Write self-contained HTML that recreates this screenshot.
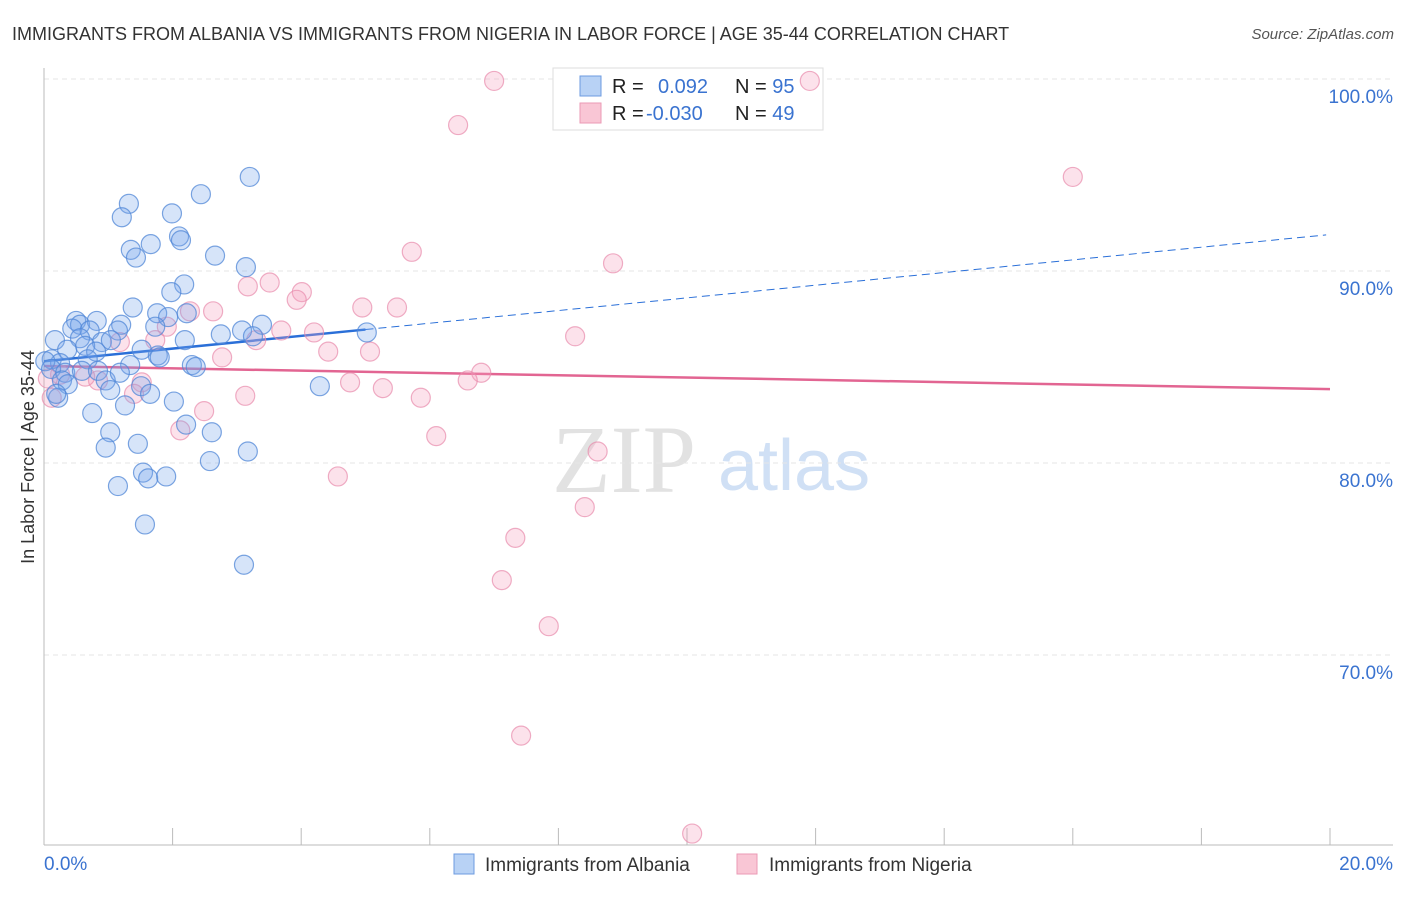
<!DOCTYPE html>
<html><head><meta charset="utf-8"><style>
body{margin:0;background:#fff;font-family:"Liberation Sans",sans-serif;}
</style></head><body>
<svg width="1406" height="892" xmlns="http://www.w3.org/2000/svg">
<text x="12" y="40" font-size="18" fill="#333">IMMIGRANTS FROM ALBANIA VS IMMIGRANTS FROM NIGERIA IN LABOR FORCE | AGE 35-44 CORRELATION CHART</text>
<text x="1394" y="39" font-size="15" fill="#555" font-style="italic" text-anchor="end">Source: ZipAtlas.com</text>
<g>
<text x="552" y="492" font-size="96" fill="#e2e2e2" font-family="Liberation Serif, serif">ZIP</text>
<text x="718" y="490" font-size="72" fill="#d0e0f5">atlas</text>
</g>
<g id="grid"></g>
<g id="axes"></g>
<g>
<rect x="553" y="68" width="270" height="62" fill="#fff" stroke="#ddd"/>
<rect x="580" y="76" width="21" height="20" fill="#b8d2f5" stroke="#6d9be0"/>
<rect x="580" y="103" width="21" height="20" fill="#f9c6d5" stroke="#eb9ab5"/>
<text x="612" y="93" font-size="20" fill="#222">R = <tspan x="658" fill="#3a73d0">0.092</tspan><tspan x="735" fill="#222">N = </tspan><tspan fill="#3a73d0">95</tspan></text>
<text x="612" y="120" font-size="20" fill="#222">R = <tspan x="646" fill="#3a73d0">-0.030</tspan><tspan x="735" fill="#222">N = </tspan><tspan fill="#3a73d0">49</tspan></text>
</g>
<g id="lines"></g>
<g id="pts"></g>
<text transform="translate(34,457) rotate(-90)" font-size="18" fill="#333" text-anchor="middle">In Labor Force | Age 35-44</text>
<text x="44" y="870" font-size="19" fill="#3a73d0">0.0%</text>
<text x="1393" y="870" font-size="19" fill="#3a73d0" text-anchor="end">20.0%</text>
<g>
<rect x="454" y="854" width="20" height="20" fill="#b8d2f5" stroke="#6d9be0"/>
<text x="485" y="871" font-size="19" fill="#333">Immigrants from Albania</text>
<rect x="737" y="854" width="20" height="20" fill="#f9c6d5" stroke="#eb9ab5"/>
<text x="769" y="871" font-size="19" fill="#333">Immigrants from Nigeria</text>
</g>
</svg>
<script>
const yTicks=[70,80,90,100];
const yTickLabels=["70.0%","80.0%","90.0%","100.0%"];
const xTicks=[0,2,4,6,8,10,12,14,16,18,20];
const albaniaX=[3.20,2.44,1.32,1.99,1.21,2.10,2.13,1.66,1.35,1.43,2.66,3.14,2.18,1.98,1.38,1.76,1.93,2.22,0.50,0.56,0.82,1.20,1.15,0.44,0.71,1.73,3.08,3.39,2.75,3.25,5.02,0.17,0.56,0.90,1.04,2.19,0.36,0.64,0.81,1.52,1.77,0.12,0.25,0.68,1.34,2.30,0.02,0.11,0.33,0.59,0.84,0.28,0.96,0.37,1.03,1.51,1.65,4.29,0.22,1.26,2.02,0.75,2.21,2.61,1.03,1.46,0.96,3.17,2.58,1.54,1.62,1.90,1.15,1.57,3.11,1.80,2.36,0.19,1.18];
const albaniaY=[94.9,94.0,93.5,93.0,92.8,91.8,91.6,91.4,91.1,90.7,90.8,90.2,89.3,88.9,88.1,87.8,87.6,87.8,87.4,87.2,87.4,87.2,86.9,87.0,86.9,87.1,86.9,87.2,86.7,86.6,86.8,86.4,86.5,86.3,86.4,86.4,85.9,86.1,85.8,85.9,85.6,85.4,85.2,85.4,85.1,85.1,85.3,84.9,84.7,84.8,84.8,84.3,84.3,84.1,83.8,84.0,83.6,84.0,83.4,83.0,83.2,82.6,82.0,81.6,81.6,81.0,80.8,80.6,80.1,79.5,79.2,79.3,78.8,76.8,74.7,85.5,85.0,83.6,84.7];
const nigeriaX=[7.00,11.91,6.44,16.0,5.72,8.85,3.51,3.17,4.01,3.93,4.95,5.49,2.63,2.27,3.69,4.20,1.91,8.26,3.30,1.73,1.18,4.42,5.07,2.77,6.80,6.59,4.76,5.27,5.86,3.13,1.52,1.40,0.84,0.64,0.25,0.06,0.12,2.49,2.12,6.10,8.61,4.57,8.41,7.33,7.12,7.85,7.42,10.08];
const nigeriaY=[99.9,99.9,97.6,94.9,91.0,90.4,89.4,89.2,88.9,88.5,88.1,88.1,87.9,87.9,86.9,86.8,87.1,86.6,86.4,86.4,86.3,85.8,85.8,85.5,84.7,84.3,84.2,83.9,83.4,83.5,84.2,83.6,84.3,84.5,84.6,84.4,83.4,82.7,81.7,81.4,80.6,79.3,77.7,76.1,73.9,71.5,65.8,60.7];
const albaniaTrend=[85.3,91.9];
const nigeriaTrend=[85.05,83.85];
const NS="http://www.w3.org/2000/svg";
const X=v=>44+v*64.3, Y=v=>79+(100-v)*19.2;
function mk(t,a,p){const e=document.createElementNS(NS,t);for(const k in a)e.setAttribute(k,a[k]);document.getElementById(p).appendChild(e);return e;}
yTicks.forEach((t,i)=>{
 const l=mk('line',{x1:44,x2:1393,y1:Y(t),y2:Y(t),stroke:'#e6e6e6','stroke-dasharray':'5,4'},'grid');
 
 
 const tx=mk('text',{x:1393,y:Y(t)+24,'font-size':19,fill:'#3a73d0','text-anchor':'end'},'grid');
 tx.textContent=yTickLabels[i];
 
 
});
const ya=mk('line',{x1:44,x2:44,y1:68,y2:845,stroke:'#bbb'},'axes');


const xa=mk('line',{x1:44,x2:1393,y1:845,y2:845,stroke:'#bbb'},'axes');


xTicks.forEach(t=>{const l=mk('line',{x1:X(t),x2:X(t),y1:828,y2:845,stroke:'#bbb'},'axes');
 
 });
const ay=x=>albaniaTrend[0]+(albaniaTrend[1]-albaniaTrend[0])*x/20;
const ny=x=>nigeriaTrend[0]+(nigeriaTrend[1]-nigeriaTrend[0])*x/20;
let l1=mk('line',{x1:X(0),y1:Y(ay(0)),x2:X(5),y2:Y(ay(5)),stroke:'#2a6fd8','stroke-width':2.5},'lines');


let l2=mk('line',{x1:X(5),y1:Y(ay(5)),x2:X(19.94),y2:Y(ay(19.94)),stroke:'#2a6fd8','stroke-width':1,'stroke-dasharray':'8,5'},'lines');


let l3=mk('line',{x1:X(0),y1:Y(ny(0)),x2:X(20),y2:Y(ny(20)),stroke:'#e26592','stroke-width':2.5},'lines');


nigeriaX.forEach((x,i)=>{const c=mk('circle',{cx:X(x),cy:Y(nigeriaY[i]),r:9.5,fill:'rgba(244,160,188,0.3)',stroke:'rgba(232,140,172,0.7)','stroke-width':1.2},'pts');
 
 });
albaniaX.forEach((x,i)=>{const c=mk('circle',{cx:X(x),cy:Y(albaniaY[i]),r:9.5,fill:'rgba(120,165,235,0.3)',stroke:'rgba(80,135,215,0.75)','stroke-width':1.2},'pts');
 
 });
</script>
</body></html>
